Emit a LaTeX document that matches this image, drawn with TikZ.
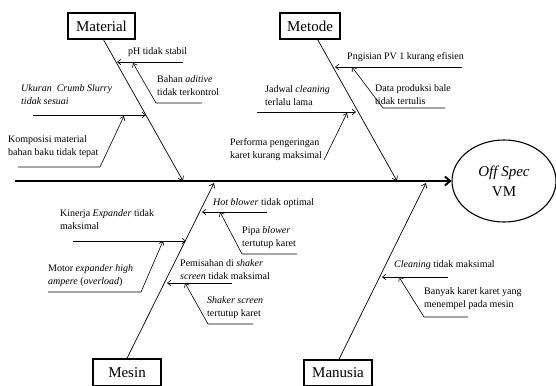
\documentclass[tikz,border=0pt]{standalone}
\usepackage{fontspec}
\setmainfont{Liberation Serif}
\usetikzlibrary{arrows.meta,shapes.geometric}
\begin{document}
\begin{tikzpicture}[x=1pt,y=-1pt,
  cat/.style={draw, line width=1.4pt, inner sep=0pt, minimum height=26pt,
    font=\fontsize{15}{18}\selectfont},
  cause/.style={anchor=north west, inner sep=0pt, align=left,
    font=\fontsize{10}{13}\selectfont},
  bone/.style={line width=0.7pt, -{Straight Barb[length=4pt,width=6pt]}},
  twig/.style={line width=0.6pt, -{Straight Barb[length=3.5pt,width=5.5pt]}},
  ]
\useasboundingbox (0,0) rectangle (556,385);

% effect head and spine
\node[ellipse, draw, line width=1.1pt, minimum width=104pt, minimum height=82pt,
  inner sep=0pt, align=center, font=\fontsize{15}{20}\selectfont]
  (eff) at (504,181) {\textit{Off Spec}\\VM};
\coordinate (tail) at (15,181);
\draw[line width=2pt, -{Straight Barb[length=5pt,width=9pt]}] (tail) -- (eff.west);

% category boxes
\node[cat, minimum width=67pt] (mat) at (101.5,26) {Material};
\node[cat, minimum width=60pt] (met) at (310,26) {Metode};
\node[cat, minimum width=68pt, minimum height=27pt] (mes) at (127,372.5) {Mesin};
\node[cat, minimum width=68pt] (man) at (338,373) {Manusia};

% main bones
\coordinate (matEnd) at (183,181);
\coordinate (metEnd) at (397,181);
\coordinate (mesEnd) at (214,183);
\coordinate (manEnd) at (426,183);
\draw[bone] ([xshift=2pt]mat.south) -- (matEnd);
\draw[bone] (met) -- (metEnd);
\draw[bone] (mes.north) -- (mesEnd);
\draw[bone] ([xshift=1pt]man.north) -- (manEnd);

% Material causes
\node[cause] (ph) at (128,47.5) {pH tidak stabil};
\coordinate (phR) at (183,62);  \coordinate (phT) at (117,62);
\draw[twig] (phR) -- (phT);

\node[cause] (adt) at (157,75) {Bahan \textit{aditive}\\tidak terkontrol};
\coordinate (adtR) at (202,103); \coordinate (adtL) at (156,103); \coordinate (adtT) at (133,63);
\draw[twig] (adtR) -- (adtL) -- (adtT);

\node[cause] (ukr) at (21,84.5) {\textit{Ukuran\ \ Crumb Slurry}\\\textit{tidak sesuai}};
\coordinate (ukrL) at (33,115); \coordinate (ukrT) at (146,115);
\draw[twig] (ukrL) -- (ukrT);

\node[cause] (kmp) at (8,135.5) {Komposisi material\\bahan baku tidak\ tepat};
\coordinate (kmpL) at (18,167); \coordinate (kmpR) at (100,167); \coordinate (kmpT) at (124,116);
\draw[twig] (kmpL) -- (kmpR) -- (kmpT);

% Metode causes
\node[cause] (pv) at (347,52.5) {Pngisian PV 1 kurang efisien};
\coordinate (pvR) at (462,67); \coordinate (pvT) at (335,67);
\draw[twig] (pvR) -- (pvT);

\node[cause] (dat) at (375,84) {Data produksi bale\\tidak tertulis};
\coordinate (datR) at (445,108); \coordinate (datL) at (383,108); \coordinate (datT) at (352,67);
\draw[twig] (datR) -- (datL) -- (datT);

\node[cause] (jdw) at (265,85.5) {Jadwal \textit{cleaning}\\terlalu lama};
\coordinate (jdwL) at (257,112); \coordinate (jdwT) at (356,112);
\draw[twig] (jdwL) -- (jdwT);

\node[cause] (prf) at (230,138.5) {Performa pengeringan\\karet kurang maksimal};
\coordinate (prfB) at (324,160); \coordinate (prfT) at (347,113);
\draw[twig] (prfB) -- (prfT);

% Mesin causes
\node[cause] (hb) at (213,198) {\textit{Hot blower}\ tidak optimal};
\coordinate (hbR) at (267,212); \coordinate (hbT) at (202,212);
\draw[twig] (hbR) -- (hbT);

\node[cause] (pip) at (242,226) {Pipa \textit{blower}\\tertutup karet};
\coordinate (pipR) at (297,254); \coordinate (pipL) at (242,254); \coordinate (pipT) at (220,212);
\draw[twig] (pipR) -- (pipL) -- (pipT);

\node[cause] (kin) at (60,209) {Kinerja \textit{Expander} tidak\\maksimal};
\coordinate (kinL) at (73,241); \coordinate (kinT) at (186,241);
\draw[twig] (kinL) -- (kinT);

\node[cause] (mot) at (48,264) {Motor \textit{expander high}\\\textit{ampere} (\textit{overload})};
\coordinate (motL) at (48,292); \coordinate (motR) at (141,292); \coordinate (motT) at (163,241);
\draw[twig] (motL) -- (motR) -- (motT);

\node[cause] (pms) at (180,259) {Pemisahan di \textit{shaker}\\\textit{screen} tidak maksimal};
\coordinate (pmsR) at (232,283); \coordinate (pmsT) at (167,283);
\draw[twig] (pmsR) -- (pmsT);

\node[cause] (shk) at (207,296) {\textit{Shaker screen}\\tertutup karet};
\coordinate (shkR) at (253,324); \coordinate (shkL) at (208,324); \coordinate (shkT) at (185,283);
\draw[twig] (shkR) -- (shkL) -- (shkT);

% Manusia causes
\node[cause] (cln) at (394,260.5) {\textit{Cleaning}\ tidak maksimal};
\coordinate (clnR) at (448,277); \coordinate (clnT) at (382,277);
\draw[twig] (clnR) -- (clnT);

\node[cause] (byk) at (424,287) {Banyak karet karet yang\\menempel pada mesin};
\coordinate (bykR) at (468,317); \coordinate (bykL) at (424,317); \coordinate (bykT) at (399,277);
\draw[twig] (bykR) -- (bykL) -- (bykT);
\end{tikzpicture}
\end{document}
